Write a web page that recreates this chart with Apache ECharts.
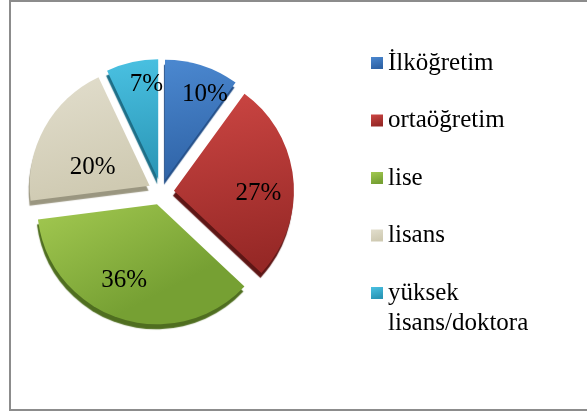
<!DOCTYPE html>
<html><head><meta charset="utf-8">
<script src="https://cdn.jsdelivr.net/npm/echarts@6/dist/echarts.min.js"></script>
<style>html,body{margin:0;padding:0;background:#fff}#c{width:587px;height:416px}</style>
</head><body><div id="c"></div>
<script>
const categories = ['İlköğretim', 'ortaöğretim', 'lise', 'lisans', 'yüksek lisans/doktora'];
const values = [10, 27, 36, 20, 7];
const labels = ['10%', '27%', '36%', '20%', '7%'];

const topColors = ['#4b88d0', '#cc4643', '#a3c951', '#e2decd', '#4ac1e2'];
const bottomColors = ['#2f63a6', '#962826', '#76a033', '#cfcab2', '#2a96b6'];
const depthColors = ['#24508a', '#5e1615', '#4f6e20', '#9a9680', '#1d6f88'];
const labelRadius = [0.8, 0.68, 0.63, 0.49, 0.81];
const labelAngleShift = [6, 4, 7, -6.6, 6];

const SERIF = 'Liberation Serif';
const CX = 161, CY = 192, R = 120, OFF = 13;
const total = values.reduce((a, b) => a + b, 0);
const mids = [];
let acc = 0;
values.forEach(v => { mids.push((acc + v / 2) / total * 2 * Math.PI); acc += v; });

const chart = echarts.init(document.getElementById('c'), null, {renderer: 'canvas'});
chart.setOption({
  animation: false,
  backgroundColor: '#ffffff',
  graphic: [{
    type: 'rect', z: 100,
    shape: {x: 10, y: 1, width: 590, height: 409},
    style: {fill: 'none', stroke: '#8c8c8c', lineWidth: 2}
  }],
  legend: {
    orient: 'vertical',
    left: 366,
    top: 43,
    itemWidth: 12,
    itemHeight: 12,
    itemGap: 27.5,
    icon: 'rect',
    selectedMode: false,
    textStyle: {
      fontFamily: SERIF, fontSize: 25, lineHeight: 30, color: '#000',
      rich: {t: {fontFamily: SERIF, fontSize: 25, lineHeight: 30, color: '#000'}}
    },
    formatter: name => name === 'yüksek lisans/doktora' ? '{t|yüksek}\n{t|lisans/doktora}' : name,
    data: categories.map((n, i) => i === 4
      ? {name: n, textStyle: {padding: [0, 0, -30, 0]}}
      : n)
  },
  series: [{
    type: 'pie',
    center: [CX, CY],
    radius: R,
    startAngle: 90,
    clockwise: true,
    selectedMode: 'multiple',
    selectedOffset: OFF,
    emphasis: {disabled: true},
    label: {
      show: true,
      position: 'inside',
      formatter: p => labels[p.dataIndex],
      fontFamily: SERIF,
      fontSize: 25,
      color: '#000'
    },
    labelLayout: p => {
      const i = p.dataIndex, m = mids[i];
      const a = m + labelAngleShift[i] * Math.PI / 180;
      const k = labelRadius[i];
      return {
        dx: k * R * Math.sin(a) - 0.5 * R * Math.sin(m),
        dy: -k * R * Math.cos(a) + 0.5 * R * Math.cos(m) + 5
      };
    },
    data: categories.map((n, i) => ({
      name: n,
      value: values[i],
      selected: true,
      itemStyle: {
        color: {type: 'linear', x: 0, y: 0, x2: 0.3, y2: 1, colorStops: [
          {offset: 0, color: topColors[i]}, {offset: 1, color: bottomColors[i]}]},
        borderWidth: 0,
        shadowColor: depthColors[i],
        shadowOffsetY: 5,
        shadowOffsetX: -1,
        shadowBlur: 1
      }
    }))
  }]
});
</script></body></html>
